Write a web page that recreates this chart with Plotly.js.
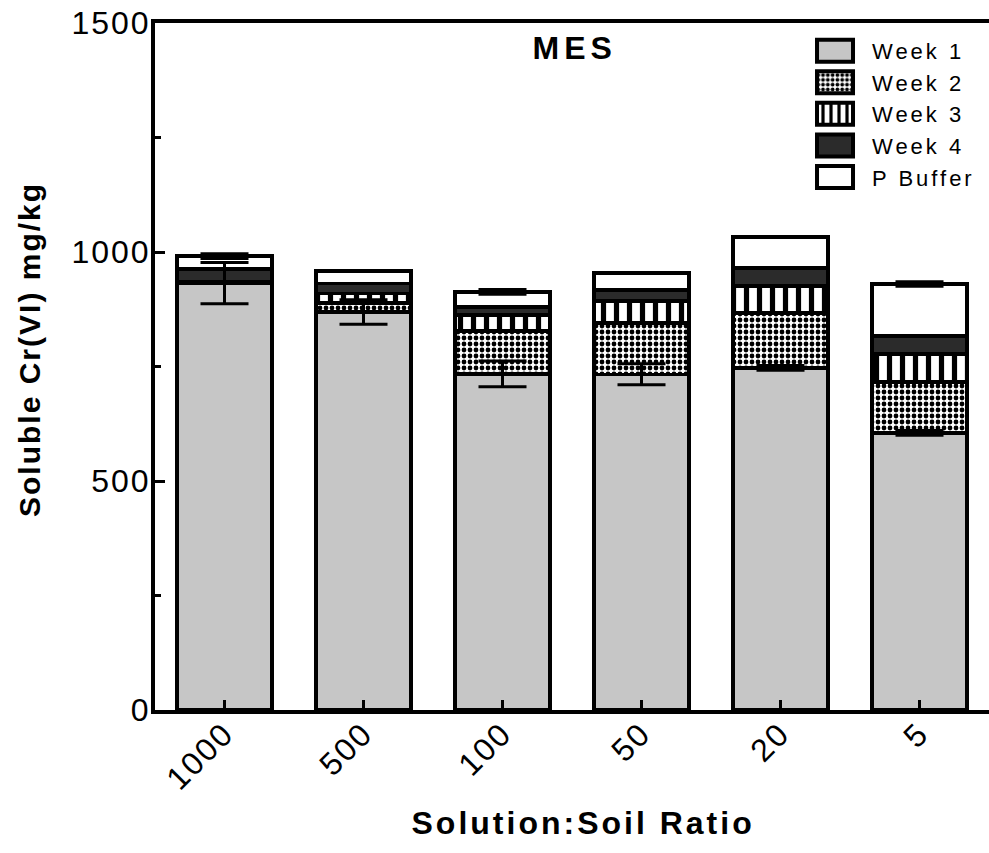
<!DOCTYPE html>
<html>
<head>
<meta charset="utf-8">
<script src="https://cdn.plot.ly/plotly-3.0.1.min.js"></script>
<style>
html,body{margin:0;padding:0;background:#fff;}
#chart{width:989px;height:853px;}
#chart .xtick text, #chart .ytick text { letter-spacing: 2px; }
#chart .legendtext { letter-spacing: 3px; }
#chart g.annotation[data-index="0"] text { letter-spacing: 5px; }
#chart g.annotation[data-index="1"] text { letter-spacing: 3px; }
#chart g.annotation[data-index="2"] text { letter-spacing: 2px; }
#chart .legend, #chart .legend * { clip-path: none !important; }
#chart .legendpoints path { d: path('M18,11H-18V-11H18Z'); stroke-width: 4px !important; }
</style>
</head>
<body>
<div id="chart"></div>
<script>
var categories = ['1000', '500', '100', '50', '20', '5'];
var week1 = [932, 869, 734, 733, 747, 605];
var week2 = [2, 20, 93, 112, 120, 111];
var week3 = [2, 20, 35, 48, 59, 61];
var week4 = [27, 22, 18, 24, 39, 40];
var pBuffer = [28, 27, 33, 37, 68, 113];
var week1Err = [45, 27, 28, 23, 5, 5];
var pBufferErr = [5, 0, 5, 0, 0, 5];

var FONT = 'Arial, "Liberation Sans", Helvetica, sans-serif';
var LINE = {color: '#000', width: 3.5};
var barW = 0.68;

// stacked tops (for placing the error bars above all bar segments)
var totals = categories.map(function (_, i) {
  return week1[i] + week2[i] + week3[i] + week4[i] + pBuffer[i];
});

function errObj(arr) {
  return {type: 'data', array: arr, symmetric: true, visible: true, color: '#000', thickness: 3, width: 24};
}

var traces = [
  {type: 'bar', name: 'Week 1', x: categories, y: week1, width: barW,
   marker: {color: '#c6c6c6', line: LINE}},
  {type: 'bar', name: 'Week 2', x: categories, y: week2, width: barW,
   marker: {color: '#ffffff', line: LINE, pattern: {shape: '.', fgcolor: '#000', bgcolor: '#fff', size: 6, solidity: 0.5}}},
  {type: 'bar', name: 'Week 3', x: categories, y: week3, width: barW,
   marker: {color: '#ffffff', line: LINE, pattern: {shape: '|', fgcolor: '#000', bgcolor: '#fff', size: 13, solidity: 0.4}}},
  {type: 'bar', name: 'Week 4', x: categories, y: week4, width: barW,
   marker: {color: '#2b2b2b', line: LINE}},
  {type: 'bar', name: 'P Buffer', x: categories, y: pBuffer, width: barW,
   marker: {color: '#ffffff', line: LINE}},
  {type: 'scatter', mode: 'none', x: categories, y: week1, showlegend: false, hoverinfo: 'skip',
   error_y: errObj(week1Err)},
  {type: 'scatter', mode: 'none', x: categories, y: totals, showlegend: false, hoverinfo: 'skip',
   error_y: errObj(pBufferErr)}
];

var layout = {
  width: 989, height: 853,
  margin: {l: 155, r: 0, t: 23, b: 143, pad: 0},
  paper_bgcolor: '#fff', plot_bgcolor: '#fff',
  barmode: 'stack',
  showlegend: true,
  legend: {x: 0.771, y: 0.99, xanchor: 'left', yanchor: 'top', traceorder: 'normal',
           font: {family: FONT, size: 22, color: '#000'}, bgcolor: 'rgba(0,0,0,0)', borderwidth: 0,
           itemwidth: 64, tracegroupgap: 0},
  font: {family: FONT, color: '#000'},
  xaxis: {
    type: 'category', range: [-0.5, 5.5],
    showline: true, linecolor: '#000', linewidth: 4, mirror: true,
    ticks: 'inside', ticklen: 10, tickwidth: 3, tickcolor: '#000',
    tickangle: -45, tickfont: {family: FONT, size: 32, color: '#000'}, ticklabelstandoff: -12,
    showgrid: false, zeroline: false
  },
  yaxis: {
    range: [0, 1500], dtick: 500, tick0: 0,
    showline: true, linecolor: '#000', linewidth: 4,
    ticks: 'inside', ticklen: 10, tickwidth: 3, tickcolor: '#000',
    minor: {dtick: 250, ticks: 'inside', ticklen: 6, tickwidth: 3, tickcolor: '#000', showgrid: false},
    tickfont: {family: FONT, size: 32, color: '#000'}, ticklabelstandoff: -6,
    showgrid: false, zeroline: false
  },
  annotations: [
    {text: '<b>MES</b>', x: 0.503, y: 1445, xref: 'paper', yref: 'y', xanchor: 'center', yanchor: 'middle',
     showarrow: false, font: {family: FONT, size: 32, color: '#000'}},
    {text: '<b>Solution:Soil Ratio</b>', x: 0.513, y: -0.1645, xref: 'paper', yref: 'paper',
     xanchor: 'center', yanchor: 'middle', showarrow: false, font: {family: FONT, size: 32, color: '#000'}},
    {text: '<b>Soluble Cr(VI) mg/kg</b>', x: -0.1499, y: 0.5255, xref: 'paper', yref: 'paper', textangle: -90,
     xanchor: 'center', yanchor: 'middle', showarrow: false, font: {family: FONT, size: 30, color: '#000'}}
  ]
};

Plotly.newPlot('chart', traces, layout, {staticPlot: true});
</script>
</body>
</html>
